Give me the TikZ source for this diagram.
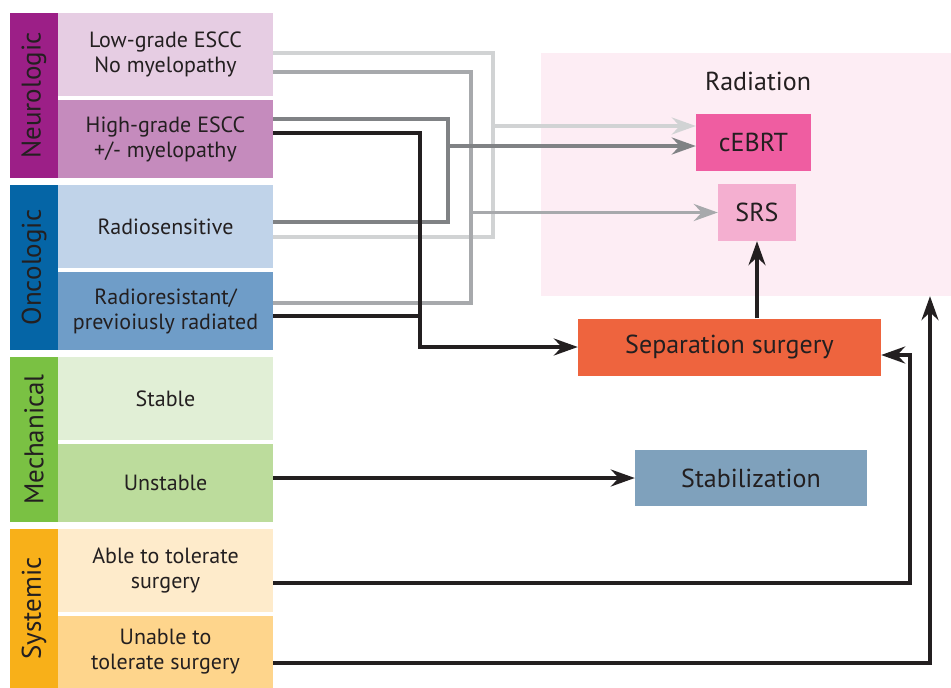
\documentclass[tikz,border=0pt]{standalone}
\usepackage{fontspec}
\setmainfont{PT Sans}
\usepackage{xcolor}
\usepackage{tikz}
\usetikzlibrary{arrows.meta,calc}
\definecolor{ink}{HTML}{231F20}
\definecolor{neurobar}{HTML}{9C1F87}
\definecolor{lowg}{HTML}{E6CDE3}
\definecolor{highg}{HTML}{C58BBD}
\definecolor{oncobar}{HTML}{0565A6}
\definecolor{rsens}{HTML}{C0D3E9}
\definecolor{rres}{HTML}{6F9DC8}
\definecolor{mechbar}{HTML}{7AC143}
\definecolor{stablec}{HTML}{E1EFD6}
\definecolor{unstablec}{HTML}{BCDC9C}
\definecolor{systbar}{HTML}{F8B019}
\definecolor{ablec}{HTML}{FEEBCB}
\definecolor{unablec}{HTML}{FED58C}
\definecolor{radbg}{HTML}{FDEDF4}
\definecolor{cebrtc}{HTML}{EF5DA1}
\definecolor{srsc}{HTML}{F4AFD0}
\definecolor{sepc}{HTML}{EE643E}
\definecolor{stabzc}{HTML}{7FA1BC}
\definecolor{lightg}{HTML}{D1D3D4}
\definecolor{midg}{HTML}{A7A9AC}
\definecolor{darkg}{HTML}{808285}
\tikzstyle{line} = [draw, line width=3.5pt, -{Stealth[length=24pt,width=17pt,inset=8pt]}]
\tikzstyle{wire} = [draw, line width=3.5pt]
\tikzset{
    every node/.style={font=\fontsize{22}{25}\selectfont, text=ink},
    catbar/.style={rotate=90, minimum height=48pt, inner sep=0pt, font=\fontsize{27}{30}\selectfont},
    optbox/.style={minimum width=215pt, align=center, inner sep=0pt},
    treat/.style={inner sep=0pt, font=\fontsize{26}{30}\selectfont}
}

\begin{document}
\begin{tikzpicture}[x=1pt,y=-1pt]
            \useasboundingbox (0,0) rectangle (951,688);

            % Draw category bars
            \node[catbar, fill=neurobar, minimum width=165pt] (neuro) at (34,95.5) {Neurologic};
            \node[catbar, fill=oncobar, minimum width=165pt] (onco) at (34,267.5) {Oncologic};
            \node[catbar, fill=mechbar, minimum width=165pt] (mech) at (34,439.5) {Mechanical};
            \node[catbar, fill=systbar, minimum width=159pt] (syst) at (34,608.5) {Systemic};

            % Draw option boxes
            \node[optbox, fill=lowg, minimum height=83pt] (lowgrade) at (165.5,54.5) {Low-grade ESCC\\No myelopathy};
            \node[optbox, fill=highg, minimum height=78pt] (highgrade) at (165.5,139) {High-grade ESCC\\+/- myelopathy};
            \node[optbox, fill=rsens, minimum height=83pt] (radsens) at (165.5,226.5) {Radiosensitive};
            \node[optbox, fill=rres, minimum height=78pt] (radres) at (165.5,311) {Radioresistant/\\previoiusly radiated};
            \node[optbox, fill=stablec, minimum height=83pt] (stable) at (165.5,398.5) {Stable};
            \node[optbox, fill=unstablec, minimum height=78pt] (unstable) at (165.5,483) {Unstable};
            \node[optbox, fill=ablec, minimum height=83pt] (able) at (165.5,570.5) {Able to tolerate\\surgery};
            \node[optbox, fill=unablec, minimum height=72pt] (unable) at (165.5,652) {Unable to\\tolerate surgery};

            % Draw treatment boxes
            \node[fill=radbg, minimum width=410pt, minimum height=243pt, inner sep=0pt] (radiation) at (746,174.5) {};
            \node[treat] (radlabel) at (758,81) {Radiation};
            \node[treat, fill=cebrtc, minimum width=115pt, minimum height=57pt] (cebrt) at (753.5,142.5) {cEBRT};
            \node[treat, fill=srsc, minimum width=78pt, minimum height=57pt] (srs) at (757,212.5) {SRS};
            \node[treat, fill=sepc, minimum width=303pt, minimum height=57pt] (sep) at (729.5,347) {Separation surgery};
            \node[treat, fill=stabzc, minimum width=232pt, minimum height=56pt] (stabil) at (751,478) {Stabilization};

            % Bus points
            \coordinate (lightbus) at (493,126);
            \coordinate (midbus) at (471,212.5);
            \coordinate (darkbus) at (448,146);
            \coordinate (blackbus) at (420,347);
            \coordinate (ablebus) at (910,355);
            \coordinate (unablebus) at (930,0);

            % Draw connectors to radiation
            \draw[wire, lightg] ($(lowgrade.north east)+(0,40)$) -| (lightbus) |- ($(radsens.north east)+(0,52)$);
            \draw[line, lightg] (lightbus) -- (lightbus -| cebrt.west);
            \draw[wire, midg] ($(lowgrade.north east)+(0,59)$) -| (midbus) |- ($(radres.north east)+(0,31)$);
            \draw[line, midg] (midbus) -- (srs.west);
            \draw[wire, darkg] ($(highgrade.north east)+(0,19)$) -| (darkbus) |- ($(radsens.north east)+(0,37)$);
            \draw[line, darkg] (darkbus) -- (darkbus -| cebrt.west);

            % Draw connectors to surgery
            \draw[line, ink] ($(highgrade.north east)+(0,33)$) -| (blackbus) -- (sep.west);
            \draw[wire, ink] ($(radres.north east)+(0,44)$) -| (blackbus);
            \draw[line, ink] (sep.north -| srs.south) -- (srs.south);
            \draw[line, ink] (unstable.east |- stabil.west) -- (stabil.west);
            \draw[line, ink] ($(able.north east)+(0,54)$) -| (ablebus) -- (ablebus -| sep.east);
            \draw[line, ink] ($(unable.north east)+(0,47)$) -| (unablebus |- radiation.south);
        \end{tikzpicture}
\end{document}
